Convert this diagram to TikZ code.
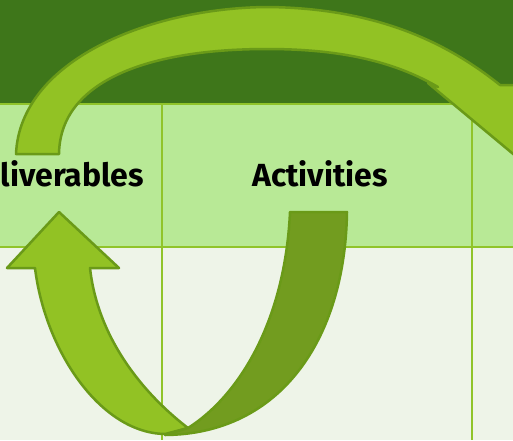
\documentclass[tikz,border=0pt]{standalone}
\usepackage{fontspec}
\setmainfont{Fira Sans}

\tikzset{
  gridline/.style={draw=gridgreen, line width=2pt},
  ribbon/.style={fill=ribbonlight, draw=ribbonedge, line width=2.5pt, line join=round},
  ribbonback/.style={fill=ribbondark, draw=ribbonedge, line width=2.5pt, line join=round},
  headtext/.style={font=\bfseries\fontsize{32}{36}\selectfont, text=black, inner sep=0pt}
}

\begin{document}
\begin{tikzpicture}[x=1pt,y=-1pt]
        \definecolor{headgreen}{HTML}{3E761A}
        \definecolor{rowgreen}{HTML}{B8E996}
        \definecolor{bodygreen}{HTML}{EEF4E8}
        \definecolor{gridgreen}{HTML}{90C42A}
        \definecolor{ribbonlight}{HTML}{92C224}
        \definecolor{ribbondark}{HTML}{729C1F}
        \definecolor{ribbonedge}{HTML}{6A9A18}
        \useasboundingbox (0,0) rectangle (513,440);
        \clip (0,0) rectangle (513,440);

        % Draw the background bands
        \fill[headgreen] (0,0) rectangle (513,104);
        \fill[rowgreen] (0,104) rectangle (513,247);
        \fill[bodygreen] (0,247) rectangle (513,440);

        % Draw the table lines
        \draw[gridline] (0,104) -- (513,104);
        \draw[gridline] (0,247) -- (513,247);
        \draw[gridline] (162,104) -- (162,440);
        \draw[gridline] (472,104) -- (472,440);

        % Column headings
        \node[headtext, anchor=base east] (deliv) at (144,186) {liverables};
        \node[headtext, anchor=base] (activ) at (320,186) {Activities};

        % Draw the upper curved arrow
        \draw[ribbon] (16,154) .. controls (20,60) and (150,8) .. (267,7)
            .. controls (380,8) and (450,45) .. (500,85)
            -- (560,86) -- (530,168) -- (428,83) -- (438,87)
            .. controls (400,65) and (350,49) .. (267,49)
            .. controls (150,49) and (60,80) .. (59,154) -- cycle;

        % Draw the lower arrow, front face
        \draw[ribbon] (35,268) .. controls (45,350) and (100,433) .. (165,434)
            -- (188,428) .. controls (145,395) and (98,340) .. (90,268)
            -- (119,268) -- (59,212) -- (7,268) -- cycle;

        % Draw the lower arrow, back face
        \draw[ribbonback] (290,212) .. controls (285,320) and (240,395) .. (188,428)
            -- (165,435) .. controls (280,434) and (345,340) .. (347,212) -- cycle;
    \end{tikzpicture}
\end{document}
